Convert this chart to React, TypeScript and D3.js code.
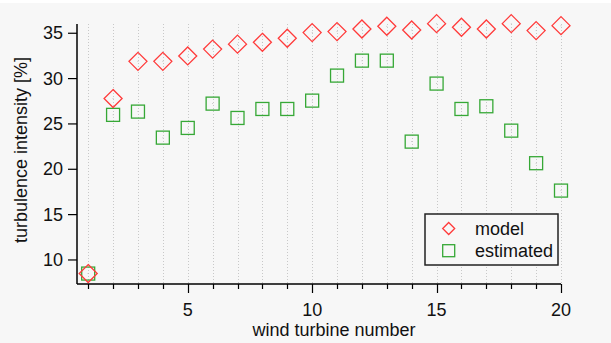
import React from "react";
import * as d3 from "d3";

const turbines = [1, 2, 3, 4, 5, 6, 7, 8, 9, 10, 11, 12, 13, 14, 15, 16, 17, 18, 19, 20];
const modelValues = [8.5, 27.8, 31.9, 31.9, 32.5, 33.25, 33.8, 34.0, 34.45, 35.07, 35.18, 35.47, 35.77, 35.36, 36.06, 35.66, 35.47, 36.06, 35.29, 35.84];
const estimatedValues = [8.5, 26.0, 26.36, 23.49, 24.56, 27.24, 25.66, 26.65, 26.65, 27.57, 30.33, 31.98, 31.98, 23.05, 29.45, 26.65, 26.95, 24.26, 20.67, 17.65];
const yTicks = [10, 15, 20, 25, 30, 35];
const xMajorTicks = [5, 10, 15, 20];
const seriesNames = ["model", "estimated"];

const W = 611;
const H = 343;
const FONT = "'Liberation Sans', Arial, Helvetica, sans-serif";
const RED = "#ff3a3a";
const GREEN = "#36a836";

export default function App() {
  const x = d3.scaleLinear().domain([0.55, 20]).range([77, 561]);
  const y = d3.scaleLinear().domain([7.35, 36.02]).range([284, 24]);
  const [x0, x1] = x.range();
  const [yb, yt] = y.range();

  const diamond = (cx: number, cy: number, r: number) =>
    `M${cx},${cy - r}L${cx + r},${cy}L${cx},${cy + r}L${cx - r},${cy}Z`;

  return (
    <svg
      width={W}
      height={H}
      style={{ position: "absolute", left: 0, top: 0 }}
      fontFamily={FONT}
    >
      <rect x={0} y={0} width={W} height={H} fill="#ffffff" />
      <rect x={0} y={3} width={W} height={H - 3} fill="#f7f7f7" />

      {/* vertical grid lines */}
      {turbines.map((t) => (
        <line
          key={"g" + t}
          x1={Math.round(x(t)) + 0.5}
          x2={Math.round(x(t)) + 0.5}
          y1={yt}
          y2={yb}
          stroke="#c8c8c8"
          strokeWidth={1}
          strokeDasharray="1,2"
        />
      ))}

      {/* axes */}
      <line x1={x0} x2={x1} y1={yb} y2={yb} stroke="#000" strokeWidth={1.5} />
      <line x1={x0} x2={x0} y1={yt} y2={yb} stroke="#000" strokeWidth={1.5} />

      {/* x ticks */}
      {turbines.map((t) => {
        const major = xMajorTicks.includes(t);
        return (
          <line
            key={"xt" + t}
            x1={Math.round(x(t)) + 0.5}
            x2={Math.round(x(t)) + 0.5}
            y1={yb}
            y2={yb + (major ? 9 : 5)}
            stroke="#000"
            strokeWidth={1.2}
          />
        );
      })}
      {xMajorTicks.map((t) => (
        <text
          key={"xl" + t}
          x={x(t)}
          y={316}
          fontSize={18}
          textAnchor="middle"
          fill="#111"
        >
          {t}
        </text>
      ))}

      {/* y ticks */}
      {yTicks.map((v) => (
        <g key={"yt" + v}>
          <line x1={x0 - 9} x2={x0} y1={y(v)} y2={y(v)} stroke="#000" strokeWidth={1.2} />
          <text
            x={x0 - 14}
            y={y(v)}
            fontSize={18}
            textAnchor="end"
            dominantBaseline="central"
            fill="#111"
          >
            {v}
          </text>
        </g>
      ))}

      {/* axis titles */}
      <text x={334} y={336} fontSize={18} textAnchor="middle" fill="#111">
        wind turbine number
      </text>
      <text
        transform={`translate(27,150) rotate(-90)`}
        fontSize={18}
        textAnchor="middle"
        fill="#111"
      >
        turbulence intensity [%]
      </text>

      {/* estimated squares */}
      {turbines.map((t, i) => (
        <g key={"e" + t}>
          <rect
            x={x(t) - 6.5}
            y={y(estimatedValues[i]) - 6.5}
            width={13}
            height={13}
            fill="none"
            stroke={GREEN}
            strokeWidth={1.3}
          />
          <circle cx={x(t)} cy={y(estimatedValues[i])} r={0.5} fill="#bbb" />
        </g>
      ))}

      {/* model diamonds */}
      {turbines.map((t, i) => (
        <g key={"m" + t}>
          <path
            d={diamond(x(t), y(modelValues[i]), 9)}
            fill="none"
            stroke={RED}
            strokeWidth={1.3}
          />
          <circle cx={x(t)} cy={y(modelValues[i])} r={0.5} fill="#bbb" />
        </g>
      ))}

      {/* legend */}
      <rect x={425} y={214} width={133} height={51} fill="#f7f7f7" stroke="#222" strokeWidth={1.5} />
      <path d={diamond(448.7, 228.5, 6)} fill="none" stroke={RED} strokeWidth={1.3} />
      <rect x={442.7} y={244.7} width={12} height={12} fill="none" stroke={GREEN} strokeWidth={1.3} />
      <text x={475} y={234.5} fontSize={18} fill="#111">{seriesNames[0]}</text>
      <text x={475} y={257} fontSize={18} fill="#111">{seriesNames[1]}</text>
    </svg>
  );
}
